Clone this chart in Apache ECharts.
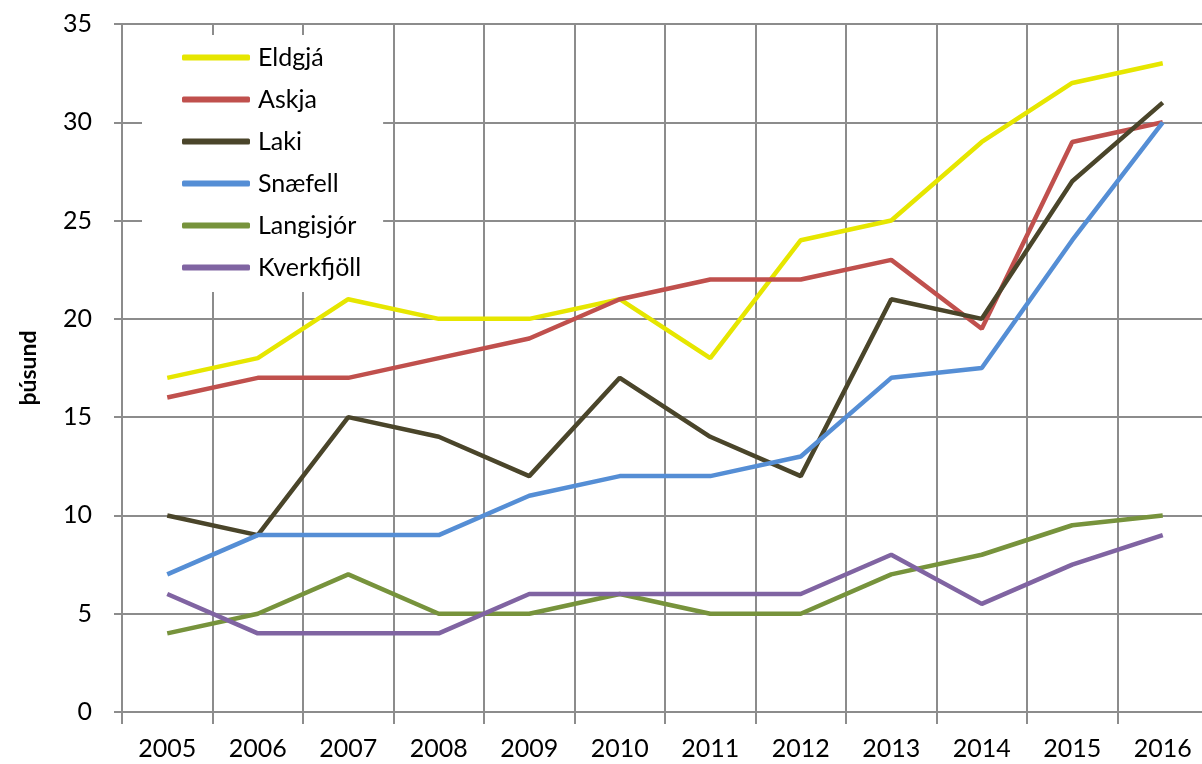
<!DOCTYPE html>
<html><head><meta charset="utf-8">
<script src="https://cdn.jsdelivr.net/npm/echarts@6/dist/echarts.min.js"></script>
<style>html,body{margin:0;padding:0;background:#fff}#c{width:1202px;height:764px}</style>
</head><body><div id="c"></div>
<script>
var years = ['2005','2006','2007','2008','2009','2010','2011','2012','2013','2014','2015','2016'];
var eldgja = [17,18,21,20,20,21,18,24,25,29,32,33];
var askja = [16,17,17,18,19,21,22,22,23,19.5,29,30];
var laki = [10,9,15,14,12,17,14,12,21,20,27,31];
var snaefell = [7,9,9,9,11,12,12,13,17,17.5,24,30];
var langisjor = [4,5,7,5,5,6,5,5,7,8,9.5,10];
var kverkfjoll = [6,4,4,4,6,6,6,6,8,5.5,7.5,9];
var yTicks = [0,5,10,15,20,25,30,35];

var names = ['Eldgjá','Askja','Laki','Snæfell','Langisjór','Kverkfjöll'];
var colors = ['#E6E600','#C0504D','#4A452A','#558ED5','#77933C','#8064A2'];
var datas = [eldgja,askja,laki,snaefell,langisjor,kverkfjoll];

var chart = echarts.init(document.getElementById('c'));
var font = 'Lato';
chart.setOption({
  animation:false,
  grid:{left:122, top:24, height:688, width:1086, containLabel:false, outerBoundsMode:'none'},
  legend:{
    orient:'vertical', left:142, top:35,
    padding:[10,22,12,40],
    backgroundColor:'#ffffff',
    itemWidth:68, itemHeight:6, itemGap:17,
    icon:'roundRect',
    z:10,
    data:names,
    textStyle:{fontFamily:font, fontSize:25, color:'#000', lineHeight:25, padding:[0,0,0,3]}
  },
  xAxis:{
    type:'category', data:years, boundaryGap:true,
    axisLine:{show:true, lineStyle:{color:'#8c8c8c', width:2}},
    axisTick:{show:true, length:12, lineStyle:{color:'#8c8c8c', width:2}},
    splitLine:{show:true, lineStyle:{color:'#8c8c8c', width:2}},
    axisLabel:{fontFamily:font, fontSize:25, color:'#000', margin:24}
  },
  yAxis:{
    type:'value', min:0, max:35, interval:5,
    name:'þúsund', nameLocation:'middle', nameRotate:90, nameGap:82,
    nameTextStyle:{fontFamily:font, fontSize:23, fontWeight:'bold', color:'#000'},
    axisLine:{show:true, lineStyle:{color:'#8c8c8c', width:2}},
    axisTick:{show:true, length:8, lineStyle:{color:'#8c8c8c', width:2}},
    splitLine:{show:true, lineStyle:{color:'#8c8c8c', width:2}},
    axisLabel:{fontFamily:font, fontSize:25, color:'#000', margin:30,
      formatter:function(v){return yTicks.indexOf(v)>=0?String(v):'';}}
  },
  series:datas.map(function(d,i){
    return {name:names[i], type:'line', data:d, symbol:'none', showSymbol:false,
      lineStyle:{color:colors[i], width:4.5}, itemStyle:{color:colors[i]}, z:2+i};
  })
});
</script></body></html>
